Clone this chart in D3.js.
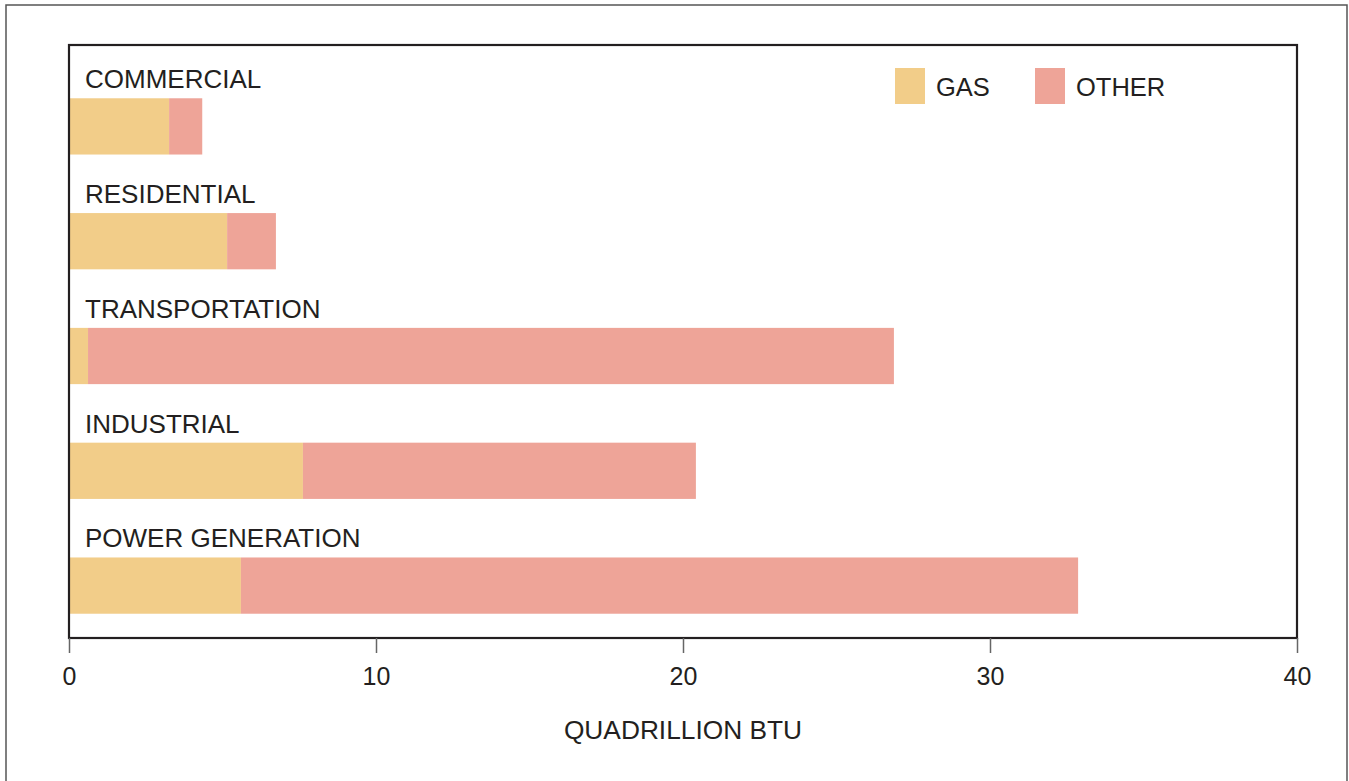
<!DOCTYPE html>
<html>
<head>
<meta charset="utf-8">
<script src="https://cdn.jsdelivr.net/npm/d3@7"></script>
<style>
  html, body { margin: 0; padding: 0; background: #fff; }
  svg { display: block; }
  text { font-family: "Liberation Sans", Arial, sans-serif; fill: #231f20; }
</style>
</head>
<body>
<svg id="chart" width="1349" height="781"></svg>
<script>
const categories = ["COMMERCIAL", "RESIDENTIAL", "TRANSPORTATION", "INDUSTRIAL", "POWER GENERATION"];
const gasValues   = [3.26, 5.15, 0.62, 7.62, 5.60];
const otherValues = [1.08, 1.59, 26.25, 12.80, 27.27];
const seriesNames = ["GAS", "OTHER"];
const seriesColors = ["#F2CD89", "#EEA498"];
const xTicks = [0, 10, 20, 30, 40];
const xTitle = "QUADRILLION BTU";

const svg = d3.select("#chart");
const plot = { left: 69, right: 1297, top: 45, bottom: 638 };

// outer border
svg.append("rect")
  .attr("x", 6).attr("y", 5).attr("width", 1341).attr("height", 790)
  .attr("fill", "none").attr("stroke", "#555").attr("stroke-width", 1.5);

const x = d3.scaleLinear().domain([0, 40]).range([plot.left, plot.right]);
const y = d3.scaleBand().domain(categories).range([69, 643]).paddingInner(0.51).paddingOuter(0.255);

const data = categories.map((c, i) => ({ cat: c, GAS: gasValues[i], OTHER: otherValues[i] }));
const stack = d3.stack().keys(seriesNames)(data);
const color = d3.scaleOrdinal().domain(seriesNames).range(seriesColors);

// bars
svg.append("g").selectAll("g").data(stack).join("g")
  .attr("fill", d => color(d.key))
  .selectAll("rect").data(d => d).join("rect")
  .attr("x", d => x(d[0]))
  .attr("y", d => y(d.data.cat))
  .attr("width", d => x(d[1]) - x(d[0]))
  .attr("height", y.bandwidth());

// category labels
svg.append("g").selectAll("text").data(categories).join("text")
  .attr("x", 85)
  .attr("y", d => y(d) - 10)
  .attr("font-size", 26)
  .text(d => d);

// frame
svg.append("rect")
  .attr("x", plot.left).attr("y", plot.top)
  .attr("width", plot.right - plot.left).attr("height", plot.bottom - plot.top)
  .attr("fill", "none").attr("stroke", "#231f20").attr("stroke-width", 2.2);

// x axis
const axis = d3.axisBottom(x).tickValues(xTicks).tickSize(15).tickPadding(14).tickFormat(d3.format("d"));
const gx = svg.append("g").attr("transform", `translate(0,${plot.bottom})`).call(axis);
gx.select(".domain").remove();
gx.selectAll(".tick line").attr("stroke", "#666").attr("stroke-width", 1.5);
gx.selectAll(".tick text").attr("font-size", 25).attr("fill", "#231f20")
  .attr("font-family", "Liberation Sans, Arial, sans-serif");

svg.append("text")
  .attr("x", x(20)).attr("y", 739)
  .attr("text-anchor", "middle")
  .attr("font-size", 26.3)
  .text(xTitle);

// legend
const legendX = [895, 1035];
const lg = svg.append("g").selectAll("g").data(seriesNames).join("g")
  .attr("transform", (d, i) => `translate(${legendX[i]},68)`);
lg.append("rect").attr("width", 30).attr("height", 36).attr("fill", d => color(d));
lg.append("text").attr("x", 41).attr("y", 28).attr("font-size", 25.5).text(d => d);
</script>
</body>
</html>
